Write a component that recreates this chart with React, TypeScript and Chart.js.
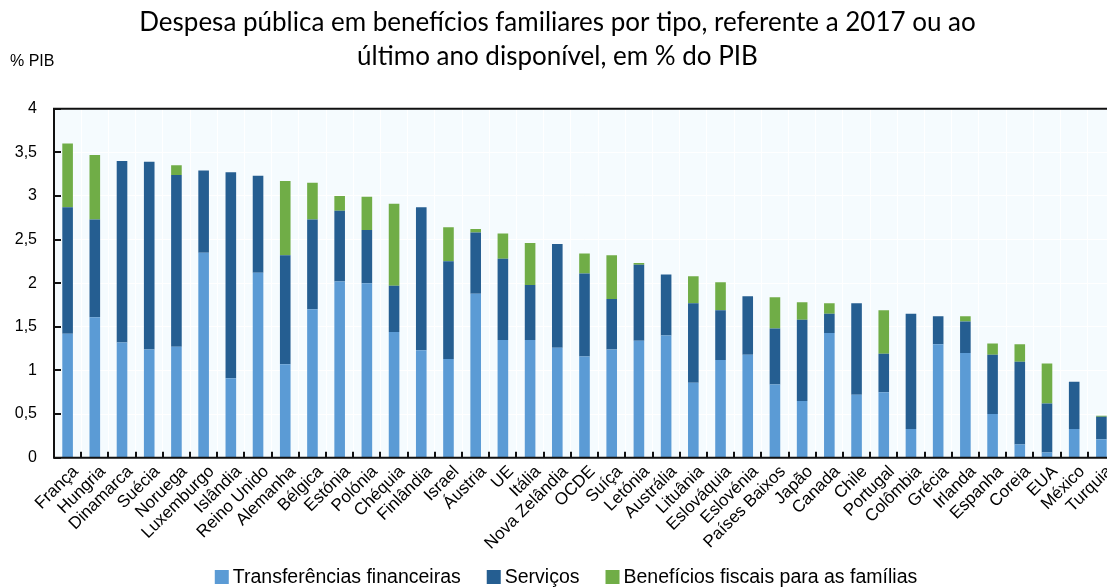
import React, { useEffect, useRef } from "react";
import { Chart, registerables } from "chart.js";

Chart.register(...registerables);

const titleLines = [
  "Despesa pública em benefícios familiares por tipo, referente a 2017 ou ao",
  "último ano disponível, em % do PIB",
];
const yUnitLabel = "% PIB";

const categories = [
  "França", "Hungria", "Dinamarca", "Suécia", "Noruega", "Luxemburgo", "Islândia",
  "Reino Unido", "Alemanha", "Bélgica", "Estónia", "Polónia", "Chéquia", "Finlândia",
  "Israel", "Áustria", "UE", "Itália", "Nova Zelândia", "OCDE", "Suíça", "Letónia",
  "Austrália", "Lituânia", "Eslováquia", "Eslovénia", "Países Baixos", "Japão",
  "Canada", "Chile", "Portugal", "Colômbia", "Grécia", "Irlanda", "Espanha", "Coreia",
  "EUA", "México", "Turquia",
];

const seriesNames = [
  "Transferências financeiras",
  "Serviços",
  "Benefícios fiscais para as famílias",
];

const transfers = [
  1.42, 1.61, 1.32, 1.24, 1.27, 2.35, 0.91, 2.12, 1.07, 1.70, 2.02, 2.00, 1.44, 1.23,
  1.13, 1.88, 1.35, 1.35, 1.26, 1.16, 1.24, 1.34, 1.40, 0.86, 1.12, 1.18, 0.84, 0.65,
  1.43, 0.72, 0.75, 0.33, 1.30, 1.20, 0.50, 0.15, 0.06, 0.33, 0.21,
];
const services = [
  1.45, 1.12, 2.08, 2.15, 1.97, 0.94, 2.36, 1.11, 1.25, 1.03, 0.81, 0.61, 0.53, 1.64,
  1.12, 0.70, 0.93, 0.63, 1.19, 0.95, 0.58, 0.87, 0.70, 0.91, 0.57, 0.67, 0.64, 0.93,
  0.22, 1.05, 0.44, 1.32, 0.32, 0.36, 0.68, 0.95, 0.56, 0.54, 0.26,
];
const taxBreaks = [
  0.73, 0.74, 0, 0, 0.11, 0, 0, 0, 0.85, 0.42, 0.17, 0.38, 0.94, 0,
  0.39, 0.04, 0.29, 0.48, 0, 0.23, 0.50, 0.02, 0, 0.31, 0.32, 0, 0.36, 0.20,
  0.12, 0, 0.50, 0, 0, 0.06, 0.13, 0.20, 0.46, 0, 0.01,
];

const yTicks = [0, 0.5, 1, 1.5, 2, 2.5, 3, 3.5, 4];

const colors = ["#5B9BD5", "#255E91", "#70AD47"];
const FONT = "Arial, 'Liberation Sans', sans-serif";

const CANVAS_W = 1120;
const CANVAS_H = 588;

const framePlugin = {
  id: "frame",
  beforeDraw(chart: any) {
    const { ctx, chartArea } = chart;
    ctx.save();
    ctx.fillStyle = "#ffffff";
    ctx.fillRect(0, 0, chart.width, chart.height);
    ctx.fillStyle = "#F5FBFE";
    ctx.fillRect(chartArea.left, chartArea.top, chartArea.right - chartArea.left, chartArea.bottom - chartArea.top);
    ctx.restore();
  },
  afterDatasetsDraw(chart: any) {
    const { ctx, chartArea } = chart;
    const xs = chart.scales.x;
    const ys = chart.scales.y;
    const { left, right, top, bottom } = chartArea;
    ctx.save();
    ctx.strokeStyle = "#111";
    ctx.lineWidth = 2;
    ctx.beginPath();
    ctx.moveTo(left, top);
    ctx.lineTo(right, top);
    ctx.moveTo(left, top - 1);
    ctx.lineTo(left, bottom + 1);
    ctx.moveTo(left - 1, bottom);
    ctx.lineTo(right, bottom);
    ctx.stroke();
    ctx.beginPath();
    yTicks.forEach((v) => {
      const y = Math.round(ys.getPixelForValue(v));
      ctx.moveTo(left, y);
      ctx.lineTo(left + 7, y);
    });
    for (let i = 1; i < categories.length; i++) {
      const x = Math.round((xs.getPixelForValue(i - 1) + xs.getPixelForValue(i)) / 2);
      ctx.moveTo(x, bottom);
      ctx.lineTo(x, bottom - 6);
    }
    ctx.stroke();
    ctx.restore();
  },
  afterDraw(chart: any) {
    const { ctx } = chart;
    ctx.save();
    ctx.fillStyle = "#000";
    ctx.font = `16px ${FONT}`;
    ctx.textBaseline = "middle";
    ctx.textAlign = "left";
    ctx.fillText(yUnitLabel, 10, 62);

    const font = `19.5px ${FONT}`;
    ctx.font = font;
    const box = 14;
    const gapBoxText = 4;
    const gapItems = 26;
    const widths = seriesNames.map((n) => ctx.measureText(n).width);
    const total = widths.reduce((a, w) => a + box + gapBoxText + w, 0) + gapItems * (seriesNames.length - 1);
    let x = 566 - total / 2;
    const cy = 577;
    seriesNames.forEach((n, i) => {
      ctx.fillStyle = colors[i];
      ctx.fillRect(x, cy - 7, box, box);
      x += box + gapBoxText;
      ctx.fillStyle = "#000";
      ctx.fillText(n, x, cy + 1);
      x += widths[i] + gapItems;
    });
    ctx.restore();
  },
};

export default function App() {
  const ref = useRef<HTMLCanvasElement | null>(null);

  useEffect(() => {
    if (!ref.current) return;
    const chart = new Chart(ref.current, {
      type: "bar",
      data: {
        labels: categories,
        datasets: [
          { label: seriesNames[0], data: transfers, backgroundColor: colors[0], borderWidth: 0 },
          { label: seriesNames[1], data: services, backgroundColor: colors[1], borderWidth: 0 },
          { label: seriesNames[2], data: taxBreaks, backgroundColor: colors[2], borderWidth: 0 },
        ],
      },
      options: {
        responsive: false,
        animation: false,
        devicePixelRatio: 1,
        layout: { padding: { left: 0, right: 5, top: 0, bottom: 0 } },
        datasets: {
          bar: { categoryPercentage: 1, barPercentage: 0.39 },
        },
        plugins: {
          legend: { display: false },
          tooltip: { enabled: false },
          title: {
            display: true,
            text: titleLines,
            color: "#000",
            font: { family: "Lato", size: 26, weight: "normal", lineHeight: 1.32 },
            padding: { top: 5, bottom: 35 },
          },
        },
        scales: {
          x: {
            stacked: true,
            grid: { display: true, color: "#ffffff", lineWidth: 1, drawTicks: false, offset: true },
            border: { display: false },
            ticks: {
              autoSkip: false,
              minRotation: 45,
              maxRotation: 45,
              padding: 4,
              labelOffset: 8,
              color: "#000",
              font: { family: FONT, size: 17 },
            },
            afterFit(scale: any) {
              scale.height = 130.3;
            },
          },
          y: {
            stacked: true,
            min: 0,
            max: 4,
            grid: { color: "#ffffff", lineWidth: 1, drawTicks: false },
            border: { display: false },
            ticks: {
              stepSize: 0.5,
              padding: 17,
              color: "#000",
              font: { family: FONT, size: 16 },
              callback: (v: any) => String(v).replace(".", ","),
            },
            afterFit(scale: any) {
              scale.width = 54;
            },
          },
        },
      },
      plugins: [framePlugin],
    });
    return () => chart.destroy();
  }, []);

  return (
    <div
      style={{
        position: "fixed",
        left: 0,
        top: 0,
        width: 1107,
        height: 588,
        overflow: "hidden",
        background: "#fff",
      }}
    >
      <canvas
        ref={ref}
        width={CANVAS_W}
        height={CANVAS_H}
        style={{ display: "block", width: CANVAS_W, height: CANVAS_H }}
      />
    </div>
  );
}
